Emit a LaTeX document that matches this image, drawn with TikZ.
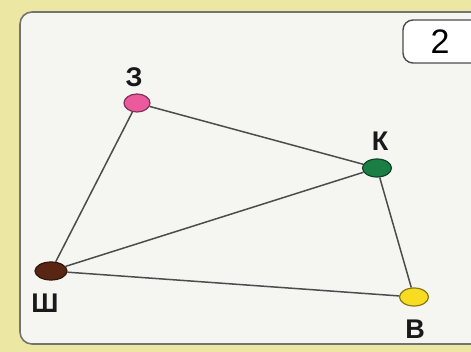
\documentclass[tikz,border=0pt]{standalone}
\usepackage{fontspec}
\setmainfont{Liberation Sans}
\usetikzlibrary{shapes.geometric}
\definecolor{bgyel}{HTML}{ECE8A4}
\definecolor{panel}{HTML}{F5F5F2}
\definecolor{cpink}{HTML}{EC5A9E}
\definecolor{cgreen}{HTML}{1B7F45}
\definecolor{cbrown}{HTML}{5A2614}
\definecolor{cyel}{HTML}{F7DC22}
\begin{document}
\begin{tikzpicture}[x=1pt,y=-1pt,
  vtx/.style={ellipse,draw=#1!55!black,fill=#1,line width=1.2pt,minimum width=29pt,minimum height=18pt,inner sep=0pt},
  lbl/.style={font=\fontsize{27}{29}\selectfont\bfseries,text=black!90},
  edge/.style={draw=black!70,line width=1.5pt}]
\useasboundingbox (0,0) rectangle (471,352);
\fill[bgyel] (0,0) rectangle (471,352);
\draw[fill=panel,draw=black!55,line width=1.6pt,rounded corners=12pt] (480,12) -- (20,12) -- (20,344) -- (480,344);
\draw[fill=white,draw=black!70,line width=1.4pt,rounded corners=10pt] (480,20) -- (403,20) -- (403,63) -- (480,63);
\node[font=\fontsize{34}{36}\selectfont] (num) at (440,42) {2};
\node[vtx=cpink,minimum width=26pt] (z) at (137,103) {};
\node[vtx=cgreen] (k) at (377,168) {};
\node[vtx=cbrown,minimum width=32pt] (sh) at (51,271) {};
\node[vtx=cyel] (v) at (414,297) {};
\node[lbl] (lz) at (134,77) {З};
\node[lbl] (lk) at (380,141) {К};
\node[lbl] (lsh) at (45,303) {Ш};
\node[lbl] (lv) at (415,329) {В};
\draw[edge] (z) -- (sh);
\draw[edge] (z) -- (k);
\draw[edge] (k) -- (sh);
\draw[edge] (k) -- (v);
\draw[edge] (sh) -- (v);
\end{tikzpicture}
\end{document}
